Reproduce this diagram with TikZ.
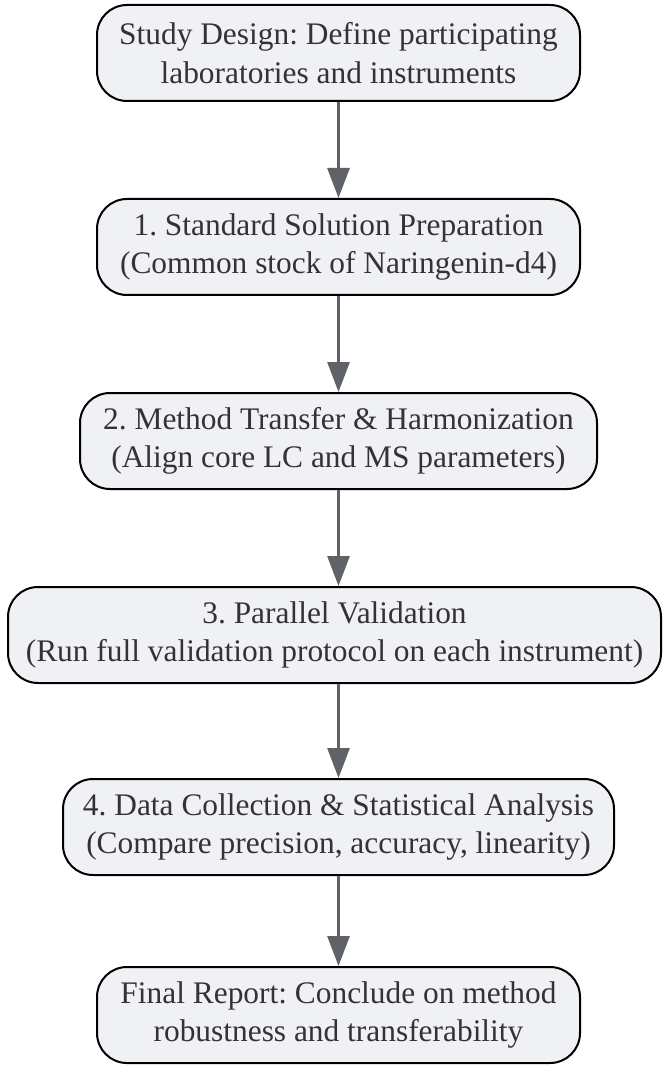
\documentclass[tikz,border=0pt]{standalone}
\usepackage{fontspec}
\setmainfont{Liberation Serif}
\usepackage{xcolor}
\usetikzlibrary{arrows.meta, positioning}
\definecolor{boxfill}{HTML}{F0F1F4}
\definecolor{textgray}{HTML}{333333}
\definecolor{arrowgray}{HTML}{5F6368}
\frenchspacing
\tikzset{
    stage/.style={
        rectangle,
        rounded corners=15pt,
        minimum height=48pt,
        align=center,
        draw=black,
        line width=1pt,
        fill=boxfill,
        text=textgray,
        font=\fontsize{15.7}{19.3}\selectfont,
        inner sep=1pt
    },
    flow/.style={
        line width=1.5pt,
        draw=arrowgray,
        -{Triangle[width=11pt,length=15pt,fill=arrowgray]}
    }
}

\begin{document}
\begin{tikzpicture}
    \useasboundingbox (0,0) rectangle (332.5pt,-534.5pt);
    \node[stage, minimum width=241.5pt] (design) at (169.25pt,-26.5pt)
        {Study Design: Define participating\\laboratories and instruments};
    \node[stage, minimum width=241.5pt] (prep) at (169.25pt,-123.5pt)
        {1. Standard Solution Preparation\\(Common stock of Naringenin-d4)};
    \node[stage, minimum width=258.5pt] (transfer) at (169.25pt,-220.5pt)
        {2. Method Transfer \& Harmonization\\(Align core LC and MS parameters)};
    \node[stage, minimum width=326.5pt] (parallel) at (167.25pt,-317.5pt)
        {3. Parallel Validation\\(Run full validation protocol on each instrument)};
    \node[stage, minimum width=275.5pt] (analysis) at (169.25pt,-413.5pt)
        {4. Data Collection \& Statistical Analysis\\(Compare precision, accuracy, linearity)};
    \node[stage, minimum width=241.5pt] (report) at (169.25pt,-507.5pt)
        {Final Report: Conclude on method\\robustness and transferability};

    % arrows between the stages
    \draw[flow] (design.south) -- (prep.north);
    \draw[flow] (prep.south) -- (transfer.north);
    \draw[flow] (transfer.south) -- (parallel.north -| transfer.south);
    \draw[flow] (parallel.south -| analysis.north) -- (analysis.north);
    \draw[flow] (analysis.south) -- (report.north);
\end{tikzpicture}
\end{document}
